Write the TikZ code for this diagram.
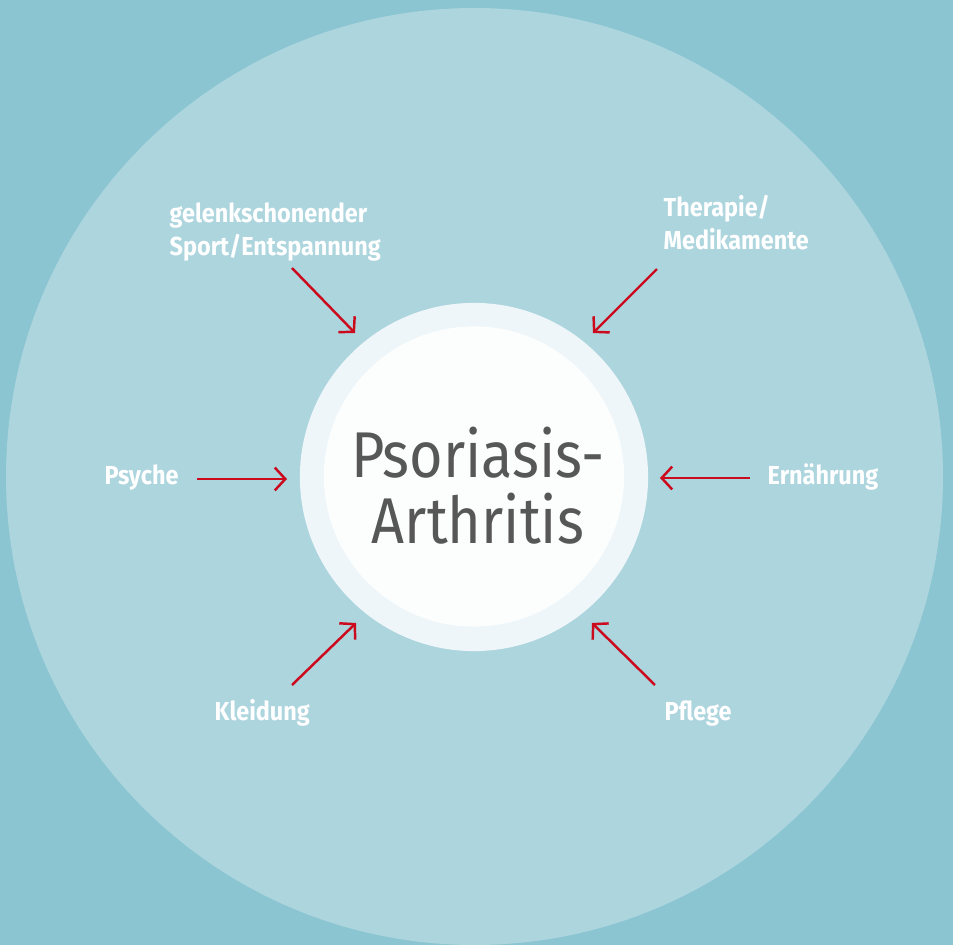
\documentclass[tikz,border=0pt]{standalone}
\usepackage{fontspec}
\setmainfont{Fira Sans}[FakeStretch=0.9]
\newfontfamily\titlefont{Fira Sans}[FakeStretch=0.89]
\usetikzlibrary{arrows.meta}

\definecolor{bgteal}{HTML}{8AC5D1}
\definecolor{outerblue}{HTML}{ADD5DE}
\definecolor{ringwhite}{HTML}{EEF6F9}
\definecolor{corewhite}{HTML}{FCFEFE}
\definecolor{arrowred}{HTML}{CC0A1E}
\definecolor{titlegray}{HTML}{575757}

\begin{document}
\begin{tikzpicture}[x=0.01cm, y=-0.01cm,
  factor/.style={font=\bfseries\fontsize{7.4}{9.4}\selectfont, text=white,
                 inner sep=0pt, anchor=north west, align=left},
  pull/.style={draw=arrowred, line width=0.7pt,
               -{Straight Barb[length=3pt, width=6.5pt]}}]
  % background and circles
  \fill[bgteal] (0,0) rectangle (953,945);
  \useasboundingbox (0,0) rectangle (953,945);
  \fill[outerblue] (474.5,476.5) circle (468.5);
  \node[circle, fill=ringwhite, minimum size=3.48cm, inner sep=0pt] (ring) at (474,477) {};
  \node[circle, fill=corewhite, minimum size=3.0cm, inner sep=0pt] (core) at (474,476.5) {};
  \node[font=\titlefont\fontsize{18.4}{19}\selectfont, text=titlegray, align=center,
        inner sep=0pt, anchor=north] (title) at (478,426) {Psoriasis-\\Arthritis};

  % factors
  \node[factor] (sport) at (169,202) {gelenkschonender\\Sport/Entspannung};
  \node[factor] (therapie) at (663,195) {Therapie/\\Medikamente};
  \node[factor, anchor=base west] (psyche) at (104,485) {Psyche};
  \node[factor, anchor=base west] (ernaehrung) at (767,485) {Ernährung};
  \node[factor, anchor=base west] (kleidung) at (214,721) {Kleidung};
  \node[factor, anchor=base west] (pflege) at (664,721) {Pflege};

  % arrow ends
  \coordinate (sportA) at (292,268);   \coordinate (sportB) at (355,333);
  \coordinate (therA) at (657,269);    \coordinate (therB) at (593,333);
  \coordinate (psyA) at (197,479);     \coordinate (psyB) at (287,479);
  \coordinate (ernA) at (750,478);     \coordinate (ernB) at (660,478);
  \coordinate (kleidA) at (292,685);   \coordinate (kleidB) at (356,623);
  \coordinate (pflA) at (655,685);     \coordinate (pflB) at (592,623);

  \draw[pull] (sportA) -- (sportB);
  \draw[pull] (therA) -- (therB);
  \draw[pull] (psyA) -- (psyB);
  \draw[pull] (ernA) -- (ernB);
  \draw[pull] (kleidA) -- (kleidB);
  \draw[pull] (pflA) -- (pflB);
\end{tikzpicture}
\end{document}
